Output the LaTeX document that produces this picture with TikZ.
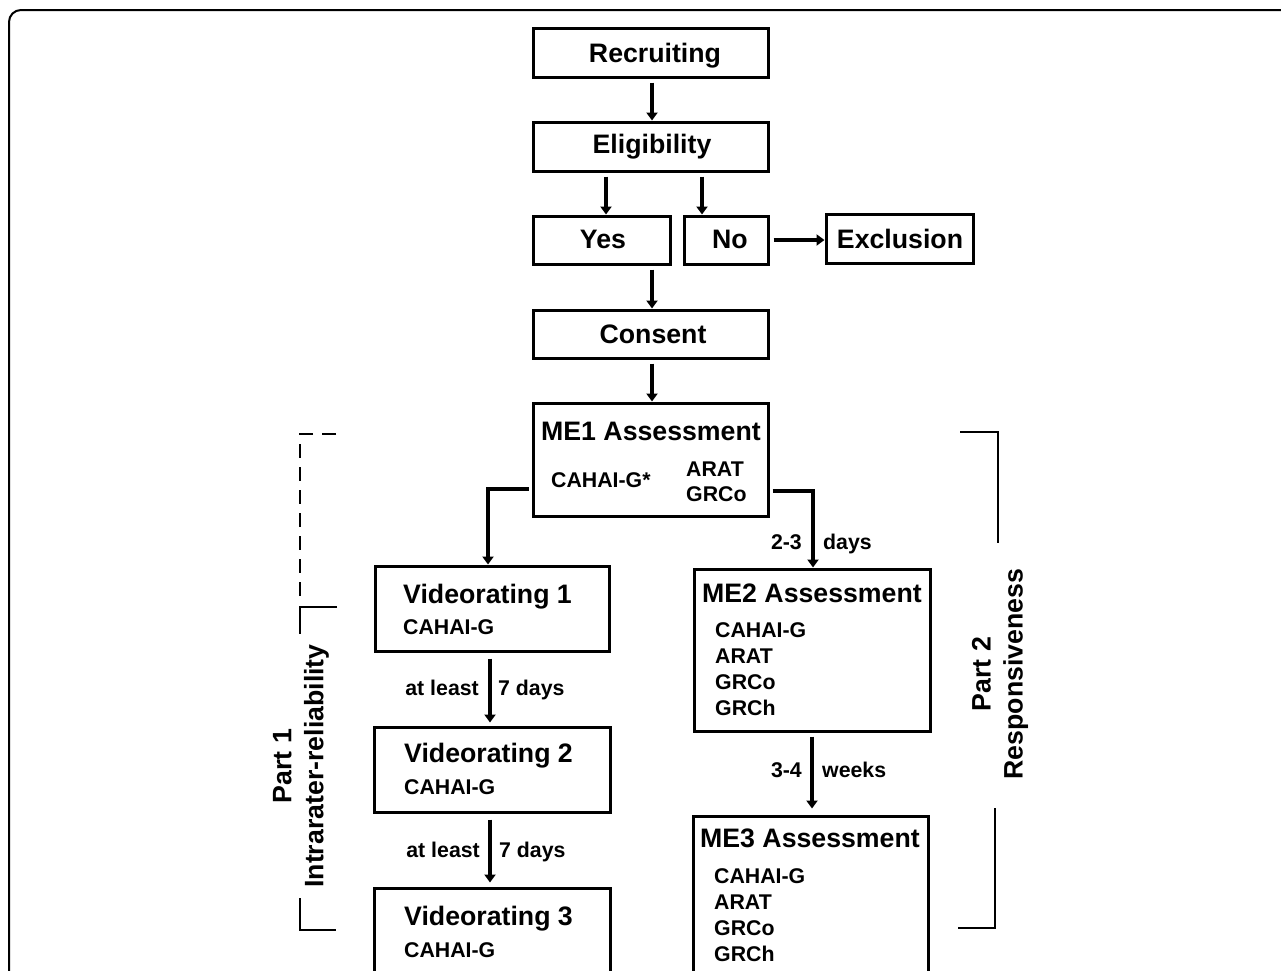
\documentclass[tikz,border=0pt]{standalone}
\usepackage{fontspec}
\setmainfont{Liberation Sans}
\usetikzlibrary{arrows.meta,calc}
\tikzset{
 box/.style={draw, line width=3pt, rectangle, inner sep=0pt},
 arr/.style={line width=4.5pt, -{Triangle[width=11pt,length=8pt]}, shorten <=4pt},
 ttl/.style={font=\bfseries\fontsize{26.7}{32}\selectfont, inner sep=0pt},
 sml/.style={font=\bfseries\fontsize{21.3}{26}\selectfont, inner sep=0pt},
 brk/.style={line width=2.7pt},
 frame/.style={line width=2pt, rounded corners=12pt}
}
\newcommand\mybox[5]{\node[box, minimum width={(#4-#2)*1pt}, minimum height={(#5-#3)*1pt}] (#1) at ({(#2+#4)/2},{(#3+#5)/2}) {};}
\begin{document}
\begin{tikzpicture}[x=1pt,y=-1pt]
\useasboundingbox (0,0) rectangle (1281,970);
\clip (0,0) rectangle (1281,970);
\draw[frame] (9,1000) -- (9,10) -- (1300,10);

% boxes
\mybox{rec}{533}{28}{768}{77}
\mybox{eli}{533}{122}{768}{171}
\mybox{yes}{533}{216}{670}{264}
\mybox{no}{684}{216}{768}{264}
\mybox{exc}{826}{214}{973}{263}
\mybox{con}{533}{310}{768}{358}
\mybox{me1}{533}{403}{768}{516}
\mybox{v1}{375}{566}{609}{651}
\mybox{v2}{374}{727}{610}{812}
\mybox{v3}{374}{888}{610}{1010}
\mybox{me2}{694}{569}{930}{731}
\mybox{me3}{693}{816}{928}{1010}

% texts
\node[ttl, anchor=base] (trec) at (655,62) {Recruiting};
\node[ttl, anchor=base] (teli) at (652,153) {Eligibility};
\node[ttl, anchor=base] (tyes) at (603,248) {Yes};
\node[ttl, anchor=base] (tno) at (730,248) {No};
\node[ttl, anchor=base] (texc) at (900,248) {Exclusion};
\node[ttl, anchor=base] (tcon) at (653,343) {Consent};
\node[ttl, anchor=base] (tme1) at (651,440) {ME1 Assessment};
\node[sml, anchor=base west] (tme1a) at (551,487) {CAHAI-G*};
\node[sml, anchor=base west] (tme1b) at (686,476) {ARAT};
\node[sml, anchor=base west] (tme1c) at (686,501) {GRCo};

\node[ttl, anchor=base west] (tv1) at (403,603) {Videorating 1};
\node[sml, anchor=base west] (tv1a) at (403,634) {CAHAI-G};
\node[ttl, anchor=base west] (tv2) at (404,762) {Videorating 2};
\node[sml, anchor=base west] (tv2a) at (404,794) {CAHAI-G};
\node[ttl, anchor=base west] (tv3) at (404,925) {Videorating 3};
\node[sml, anchor=base west] (tv3a) at (404,957) {CAHAI-G};

\node[ttl, anchor=base] (tme2) at (812,602) {ME2 Assessment};
\node[sml, anchor=base west] (tme2a) at (715,637) {CAHAI-G};
\node[sml, anchor=base west] (tme2b) at (715,663) {ARAT};
\node[sml, anchor=base west] (tme2c) at (715,689) {GRCo};
\node[sml, anchor=base west] (tme2d) at (715,715) {GRCh};

\node[ttl, anchor=base] (tme3) at (810,847) {ME3 Assessment};
\node[sml, anchor=base west] (tme3a) at (714,883) {CAHAI-G};
\node[sml, anchor=base west] (tme3b) at (714,909) {ARAT};
\node[sml, anchor=base west] (tme3c) at (714,935) {GRCo};
\node[sml, anchor=base west] (tme3d) at (714,961) {GRCh};

% helper coordinates
\coordinate (x606) at (606,0);
\coordinate (x702) at (702,0);
\coordinate (x652) at (652,0);
\coordinate (x488) at (488,0);
\coordinate (x813) at (813,0);
\coordinate (x490) at (490,0);
\coordinate (x812) at (812,0);
\coordinate (y240) at (0,240);
\coordinate (y489) at (0,489);
\coordinate (y491) at (0,491);

% arrows
\draw[arr] (rec.south -| x652) -- (eli.north -| x652);
\draw[arr] (eli.south -| x606) -- (yes.north -| x606);
\draw[arr] (eli.south -| x702) -- (no.north -| x702);
\draw[arr] (no.east |- y240) -- (exc.west |- y240);
\draw[arr] (yes.south -| x652) -- (con.north -| x652);
\draw[arr] (con.south -| x652) -- (me1.north -| x652);
\draw[arr, shorten <=3pt] (me1.west |- y489) -| (v1.north -| x488);
\draw[arr, shorten <=3pt] (me1.east |- y491) -| (me2.north -| x813);
\draw[arr, shorten <=6pt, shorten >=3pt] (v1.south -| x490) -- (v2.north -| x490);
\draw[arr, shorten <=6pt, shorten >=4pt] (v2.south -| x490) -- (v3.north -| x490);
\draw[arr, shorten <=4pt, shorten >=6pt] (me2.south -| x812) -- (me3.north -| x812);

% arrow labels
\node[sml, anchor=base east] (l23) at (802,549) {2-3};
\node[sml, anchor=base west] (ldays) at (823,549) {days};
\node[sml, anchor=base east] (la1) at (479,695) {at least};
\node[sml, anchor=base west] (lb1) at (498,695) {7 days};
\node[sml, anchor=base east] (la2) at (480,857) {at least};
\node[sml, anchor=base west] (lb2) at (499,857) {7 days};
\node[sml, anchor=base east] (l34) at (802,777) {3-4};
\node[sml, anchor=base west] (lweeks) at (822,777) {weeks};

% brackets
\draw[brk, dash pattern=on 14pt off 9pt] (336,434) -- (300,434) -- (300,604);
\draw[brk] (337,607) -- (300,607) -- (300,930) -- (336,930);
\node[ttl, rotate=90, align=center, fill=white, inner xsep=10pt, inner ysep=2pt] (p1) at (301,766) {Part 1\\Intrarater-reliability};
\draw[brk] (960,432) -- (998,432) -- (998,543);
\draw[brk] (995,808) -- (995,928) -- (958,928);
\node[ttl, rotate=90, align=center] (p2) at (1000,674) {Part 2\\Responsiveness};
\end{tikzpicture}
\end{document}
